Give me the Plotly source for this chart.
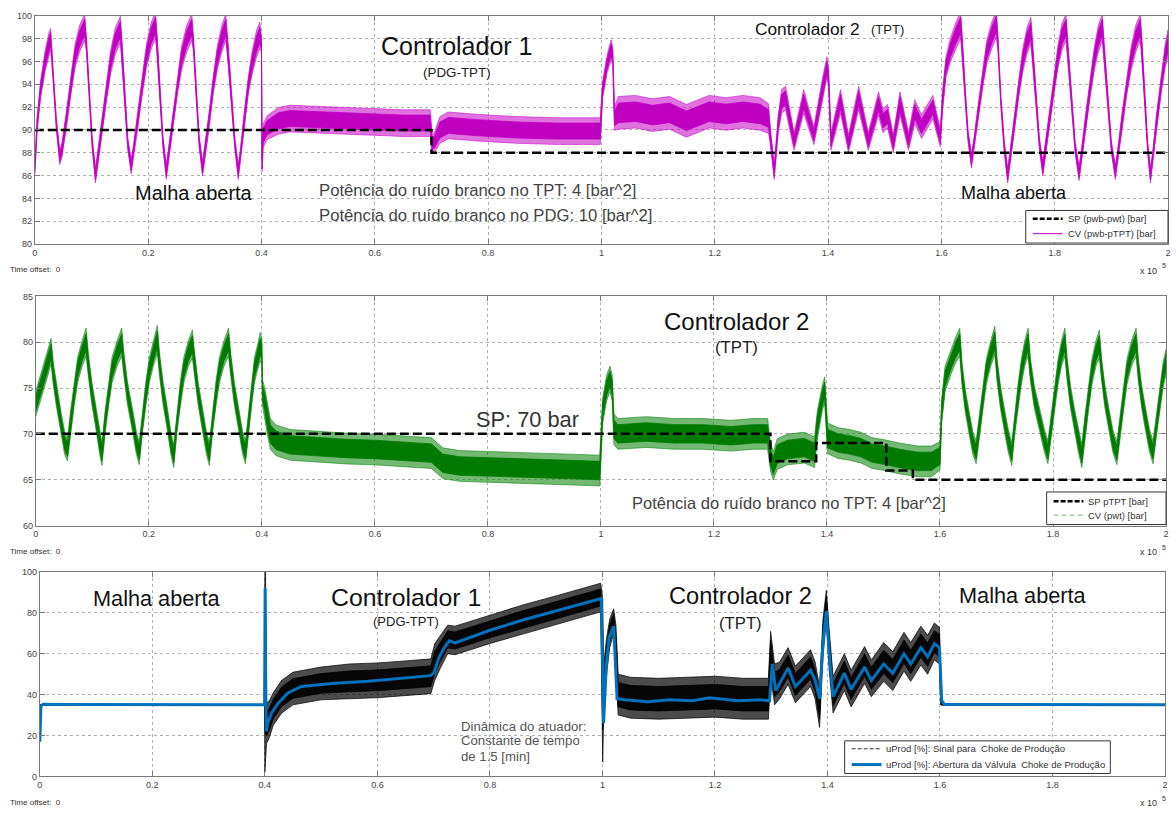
import plotly.graph_objects as go

W, H = 1176, 816

# ---------------- Panel 1: CV (pwb-pTPT) [bar]  (t in 1e5 s, value, noise half-width)
p1_cv_pts = [
    (0.000, 86.5, 0.3), (0.004, 90.5, 0.5), (0.010, 93.5, 0.6), (0.018, 96.0, 0.7), (0.025, 97.5, 0.8), (0.028, 98.0, 0.7),
    (0.032, 95.0, 0.4), (0.038, 90.5, 0.4), (0.044, 87.6, 0.5), (0.048, 88.3, 0.5), (0.056, 91.0, 0.6), (0.064, 94.0, 0.6),
    (0.071, 96.5, 0.8), (0.079, 98.0, 0.9), (0.088, 99.0, 0.9), (0.091, 97.5, 0.5), (0.096, 93.0, 0.4), (0.101, 89.0, 0.4),
    (0.107, 86.0, 0.5), (0.111, 87.5, 0.5), (0.119, 90.5, 0.6), (0.127, 93.5, 0.6), (0.134, 96.0, 0.8), (0.142, 97.8, 0.9),
    (0.151, 98.8, 0.9), (0.154, 97.0, 0.5), (0.159, 92.5, 0.4), (0.164, 88.8, 0.4), (0.170, 86.8, 0.5), (0.174, 88.0, 0.5),
    (0.182, 91.0, 0.6), (0.190, 94.0, 0.6), (0.197, 96.5, 0.8), (0.205, 98.2, 0.9), (0.213, 99.2, 0.9), (0.216, 97.5, 0.5),
    (0.221, 93.0, 0.4), (0.226, 89.0, 0.4), (0.232, 86.3, 0.5), (0.236, 87.8, 0.5), (0.244, 91.0, 0.6), (0.252, 94.0, 0.6),
    (0.259, 96.3, 0.8), (0.268, 98.0, 0.9), (0.277, 99.0, 0.9), (0.280, 97.5, 0.5), (0.285, 93.0, 0.4), (0.290, 89.0, 0.4),
    (0.296, 86.6, 0.5), (0.300, 88.0, 0.5), (0.308, 91.0, 0.6), (0.315, 94.0, 0.6), (0.322, 96.3, 0.8), (0.330, 98.0, 0.9),
    (0.337, 99.0, 0.9), (0.341, 97.0, 0.5), (0.347, 92.5, 0.4), (0.353, 88.8, 0.4), (0.359, 86.3, 0.5), (0.363, 87.8, 0.5),
    (0.370, 91.0, 0.6), (0.377, 94.0, 0.6), (0.384, 96.0, 0.8), (0.391, 97.5, 0.9), (0.397, 98.3, 0.9), (0.400, 97.5, 0.5),
    (0.401, 87.0, 0.5), (0.403, 89.5, 0.8), (0.410, 90.2, 0.8), (0.430, 90.8, 0.9), (0.450, 91.0, 0.9), (0.500, 90.9, 0.9),
    (0.550, 90.8, 0.9), (0.600, 90.7, 0.9), (0.650, 90.6, 0.9), (0.698, 90.6, 0.9), (0.701, 88.8, 0.6), (0.706, 89.0, 0.7),
    (0.715, 90.0, 0.9), (0.730, 90.4, 0.9), (0.780, 90.2, 0.9), (0.850, 90.0, 0.9), (0.920, 89.9, 0.9), (0.998, 89.9, 0.9),
    (1.002, 93.5, 0.6), (1.010, 95.8, 0.6), (1.017, 97.0, 0.7), (1.020, 96.5, 0.6), (1.023, 91.0, 0.8), (1.030, 91.5, 1.1),
    (1.060, 91.6, 1.1), (1.090, 91.3, 1.1), (1.120, 91.5, 1.1), (1.150, 90.8, 1.1), (1.165, 91.1, 1.1), (1.190, 91.6, 1.1),
    (1.220, 91.4, 1.1), (1.250, 91.6, 1.1), (1.280, 91.4, 1.1), (1.295, 91.0, 1.0), (1.298, 89.5, 0.6), (1.305, 86.3, 0.5),
    (1.312, 90.5, 0.6), (1.318, 92.5, 0.8), (1.325, 92.8, 0.8), (1.340, 89.0, 0.6), (1.357, 92.5, 0.8), (1.375, 89.5, 0.6),
    (1.390, 93.5, 0.8), (1.398, 95.5, 0.7), (1.401, 94.5, 0.6), (1.405, 89.0, 0.6), (1.422, 92.5, 0.8), (1.436, 88.8, 0.6),
    (1.454, 92.8, 0.8), (1.471, 89.0, 0.6), (1.489, 92.3, 0.8), (1.497, 90.8, 0.8), (1.505, 91.2, 0.8), (1.515, 88.8, 0.6),
    (1.527, 92.3, 0.8), (1.542, 89.0, 0.6), (1.553, 91.6, 0.8), (1.565, 90.3, 0.8), (1.585, 92.0, 0.8), (1.598, 89.3, 0.6),
    (1.602, 92.5, 0.7), (1.608, 95.5, 0.7), (1.616, 97.0, 0.8), (1.625, 98.2, 0.9), (1.634, 99.2, 0.9), (1.637, 97.5, 0.5),
    (1.642, 93.0, 0.4), (1.647, 89.5, 0.4), (1.653, 87.3, 0.5), (1.657, 88.5, 0.5), (1.665, 91.5, 0.6), (1.673, 94.5, 0.6),
    (1.680, 96.8, 0.8), (1.689, 98.3, 0.9), (1.697, 99.3, 0.9), (1.700, 97.5, 0.5), (1.705, 92.5, 0.4), (1.711, 88.5, 0.4),
    (1.717, 86.0, 0.5), (1.721, 87.5, 0.5), (1.729, 90.8, 0.6), (1.737, 93.8, 0.6), (1.744, 96.2, 0.8), (1.751, 97.8, 0.9),
    (1.758, 98.7, 0.9), (1.761, 97.0, 0.5), (1.767, 92.5, 0.4), (1.773, 88.8, 0.4), (1.779, 86.6, 0.5), (1.783, 88.0, 0.5),
    (1.791, 91.0, 0.6), (1.799, 94.0, 0.6), (1.806, 96.5, 0.8), (1.813, 98.2, 0.9), (1.820, 99.0, 0.9), (1.823, 97.2, 0.5),
    (1.830, 92.5, 0.4), (1.836, 88.5, 0.4), (1.843, 86.2, 0.5), (1.847, 87.6, 0.5), (1.855, 90.8, 0.6), (1.863, 93.8, 0.6),
    (1.870, 96.3, 0.8), (1.877, 98.0, 0.9), (1.884, 99.0, 0.9), (1.887, 97.2, 0.5), (1.894, 92.5, 0.4), (1.900, 88.5, 0.4),
    (1.907, 86.3, 0.5), (1.911, 87.6, 0.5), (1.919, 90.8, 0.6), (1.927, 93.8, 0.6), (1.935, 96.3, 0.8), (1.943, 98.0, 0.9),
    (1.951, 99.0, 0.9), (1.954, 97.2, 0.5), (1.959, 92.5, 0.4), (1.964, 88.5, 0.4), (1.969, 86.0, 0.5), (1.973, 87.5, 0.5),
    (1.980, 90.8, 0.6), (1.988, 94.0, 0.6), (1.995, 96.5, 0.8), (2.000, 97.6, 0.9),
]
p1_sp_t = [0.0, 0.7, 0.7, 2.0]
p1_sp_v = [90.0, 90.0, 88.0, 88.0]

# ---------------- Panel 2: CV (pwt) [bar]
p2_cv_pts = [
    (0.000, 73.3, 1.0), (0.010, 75.5, 1.0), (0.020, 77.5, 1.0), (0.027, 79.0, 1.0),
    (0.031, 76.5, 0.9), (0.037, 74.0, 0.9), (0.045, 71.0, 0.9), (0.051, 69.0, 0.9), (0.056, 68.3, 0.9),
    (0.062, 71.5, 0.9), (0.068, 74.5, 1.0), (0.074, 77.0, 1.0), (0.082, 78.8, 1.0), (0.089, 80.0, 1.1),
    (0.093, 77.5, 0.9), (0.099, 74.5, 0.9), (0.107, 71.5, 0.9), (0.113, 69.0, 0.9), (0.117, 67.8, 0.9),
    (0.123, 71.5, 0.9), (0.129, 74.5, 1.0), (0.135, 77.0, 1.0), (0.144, 78.8, 1.0), (0.152, 80.0, 1.1),
    (0.156, 77.5, 0.9), (0.162, 74.5, 0.9), (0.171, 71.5, 0.9), (0.178, 69.0, 0.9), (0.183, 67.9, 0.9),
    (0.189, 71.5, 0.9), (0.195, 74.5, 1.0), (0.201, 77.0, 1.0), (0.208, 78.8, 1.0), (0.215, 80.3, 1.1),
    (0.219, 77.5, 0.9), (0.225, 74.5, 0.9), (0.233, 71.5, 0.9), (0.239, 69.0, 0.9), (0.244, 67.6, 0.9),
    (0.250, 71.5, 0.9), (0.256, 74.5, 1.0), (0.262, 77.0, 1.0), (0.270, 78.8, 1.0), (0.277, 79.8, 1.1),
    (0.281, 77.5, 0.9), (0.287, 74.5, 0.9), (0.295, 71.5, 0.9), (0.302, 69.0, 0.9), (0.307, 67.8, 0.9),
    (0.313, 71.5, 0.9), (0.319, 74.5, 1.0), (0.325, 77.0, 1.0), (0.333, 78.8, 1.0), (0.341, 80.0, 1.1),
    (0.345, 77.5, 0.9), (0.351, 74.5, 0.9), (0.359, 71.5, 0.9), (0.366, 69.0, 0.9), (0.371, 68.0, 0.9),
    (0.377, 71.5, 0.9), (0.382, 74.5, 1.0), (0.387, 77.0, 1.0), (0.393, 78.5, 1.0), (0.397, 79.5, 1.1),
    (0.400, 79.0, 1.0), (0.401, 74.5, 1.0), (0.405, 73.5, 1.1), (0.410, 71.5, 1.2), (0.415, 70.0, 1.2),
    (0.425, 69.3, 1.2), (0.450, 68.8, 1.2), (0.500, 68.6, 1.2), (0.550, 68.4, 1.2), (0.600, 68.3, 1.2),
    (0.650, 68.1, 1.2), (0.700, 67.9, 1.2), (0.720, 66.8, 1.2), (0.750, 66.5, 1.2), (0.800, 66.4, 1.2),
    (0.850, 66.3, 1.2), (0.900, 66.2, 1.2), (0.950, 66.1, 1.2), (0.998, 66.0, 1.2), (1.003, 72.5, 1.0),
    (1.010, 75.0, 1.0), (1.016, 76.0, 1.0), (1.020, 75.0, 1.0), (1.023, 70.5, 1.2), (1.030, 70.0, 1.2),
    (1.080, 70.2, 1.2), (1.130, 70.0, 1.2), (1.180, 70.0, 1.2), (1.230, 69.8, 1.2), (1.270, 70.0, 1.2),
    (1.295, 70.0, 1.2), (1.300, 67.5, 1.1), (1.305, 66.5, 1.1), (1.312, 67.8, 1.2), (1.330, 68.3, 1.2),
    (1.360, 68.5, 1.2), (1.378, 68.0, 1.2), (1.383, 71.0, 1.1), (1.392, 74.0, 1.0), (1.396, 74.8, 1.0),
    (1.401, 69.5, 1.2), (1.420, 69.0, 1.2), (1.440, 68.8, 1.2), (1.460, 68.5, 1.2), (1.480, 67.9, 1.2),
    (1.500, 67.7, 1.2), (1.530, 67.3, 1.2), (1.560, 67.0, 1.2), (1.585, 67.0, 1.2), (1.600, 67.6, 1.1),
    (1.603, 72.5, 1.0), (1.609, 76.0, 1.0), (1.620, 78.0, 1.0), (1.628, 79.2, 1.0), (1.635, 80.0, 1.1),
    (1.639, 76.5, 0.9), (1.645, 73.5, 0.9), (1.652, 71.0, 0.9), (1.658, 69.0, 0.9), (1.664, 68.0, 0.9),
    (1.670, 71.0, 0.9), (1.676, 74.0, 1.0), (1.682, 76.8, 1.0), (1.690, 78.8, 1.0), (1.697, 80.2, 1.1),
    (1.701, 77.0, 0.9), (1.707, 74.0, 0.9), (1.714, 71.5, 0.9), (1.721, 69.2, 0.9), (1.727, 67.8, 0.9),
    (1.732, 71.0, 0.9), (1.738, 74.0, 1.0), (1.744, 76.8, 1.0), (1.750, 78.8, 1.0), (1.756, 80.0, 1.1),
    (1.760, 77.0, 0.9), (1.767, 74.0, 0.9), (1.776, 71.5, 0.9), (1.785, 69.2, 0.9), (1.791, 68.0, 0.9),
    (1.797, 71.0, 0.9), (1.803, 74.0, 1.0), (1.809, 76.8, 1.0), (1.815, 78.8, 1.0), (1.821, 80.0, 1.1),
    (1.825, 77.0, 0.9), (1.831, 74.0, 0.9), (1.838, 71.5, 0.9), (1.845, 69.2, 0.9), (1.851, 67.6, 0.9),
    (1.857, 71.0, 0.9), (1.863, 74.0, 1.0), (1.869, 76.8, 1.0), (1.876, 78.8, 1.0), (1.882, 79.8, 1.1),
    (1.886, 77.0, 0.9), (1.892, 74.0, 0.9), (1.899, 71.5, 0.9), (1.906, 69.2, 0.9), (1.913, 67.9, 0.9),
    (1.919, 71.0, 0.9), (1.925, 74.0, 1.0), (1.931, 76.8, 1.0), (1.939, 78.8, 1.0), (1.947, 80.0, 1.1),
    (1.951, 77.0, 0.9), (1.957, 74.0, 0.9), (1.964, 71.5, 0.9), (1.971, 69.2, 0.9), (1.977, 68.0, 0.9),
    (1.983, 71.0, 0.9), (1.989, 74.0, 1.0), (1.995, 76.5, 1.0), (2.000, 77.8, 1.0),
]
p2_sp_t = [0.0, 1.3, 1.3, 1.381, 1.381, 1.505, 1.505, 1.552, 1.552, 2.0]
p2_sp_v = [70.0, 70.0, 67.0, 67.0, 69.0, 69.0, 66.0, 66.0, 65.0, 65.0]

# ---------------- Panel 3: uProd [%]
p3_sig_pts = [  # Sinal para Choke de Producao (noisy command)
    (0.000, 35.0, 0.0), (0.3995, 35.0, 0.0), (0.4000, 51.0, 49.0), (0.4012, 51.0, 49.0), (0.403, 26.0, 10.0),
    (0.408, 28.0, 9.0), (0.415, 33.0, 8.0), (0.430, 39.0, 8.0), (0.450, 43.0, 8.0), (0.500, 45.5, 8.0),
    (0.550, 46.5, 8.5), (0.600, 47.0, 8.5), (0.650, 48.0, 8.5), (0.695, 49.0, 8.5), (0.702, 56.0, 9.0),
    (0.712, 61.0, 8.0), (0.725, 67.0, 7.0), (0.738, 66.5, 7.0), (0.800, 72.0, 7.0), (0.860, 77.0, 7.0),
    (0.920, 81.5, 7.0), (0.997, 87.5, 7.0), (1.0005, 47.0, 40.0), (1.002, 40.0, 14.0), (1.007, 58.0, 9.0),
    (1.013, 70.0, 7.0), (1.020, 76.0, 6.0), (1.024, 62.0, 12.0), (1.028, 40.0, 10.0), (1.050, 38.5, 10.0),
    (1.100, 38.0, 10.0), (1.150, 38.5, 10.0), (1.200, 39.0, 10.0), (1.250, 38.0, 10.0), (1.295, 38.0, 10.0),
    (1.299, 60.0, 11.0), (1.306, 45.0, 10.0), (1.315, 47.0, 9.0), (1.330, 54.0, 9.0), (1.343, 45.0, 9.0),
    (1.370, 53.0, 9.0), (1.378, 47.0, 9.0), (1.386, 34.0, 10.0), (1.392, 68.0, 9.0), (1.398, 84.0, 7.0),
    (1.403, 62.0, 10.0), (1.410, 40.0, 9.0), (1.430, 51.0, 9.0), (1.442, 43.0, 9.0), (1.466, 54.5, 9.0),
    (1.478, 48.0, 9.0), (1.500, 56.0, 9.5), (1.516, 51.5, 9.5), (1.536, 61.0, 9.5), (1.548, 56.0, 9.5),
    (1.566, 64.0, 9.5), (1.578, 59.5, 9.5), (1.590, 66.0, 9.0), (1.599, 64.0, 9.0), (1.601, 45.0, 10.0),
    (1.603, 35.0, 0.0), (2.000, 35.0, 0.0),
]
p3_valve_t = [0.000, 0.002, 0.006, 0.030, 0.3995, 0.4005, 0.4012, 0.4025, 0.405, 0.412, 0.424, 0.441, 0.465,
              0.524, 0.584, 0.640, 0.694, 0.700, 0.710, 0.720, 0.728, 0.738, 0.800, 0.860, 0.920, 0.998,
              1.000, 1.002, 1.007, 1.012, 1.020, 1.026, 1.040, 1.080, 1.120, 1.160, 1.190, 1.240, 1.280,
              1.297, 1.302, 1.308, 1.315, 1.330, 1.343, 1.370, 1.378, 1.386, 1.392, 1.398, 1.403, 1.410,
              1.430, 1.442, 1.466, 1.478, 1.500, 1.516, 1.536, 1.548, 1.566, 1.578, 1.590, 1.599, 1.603,
              1.608, 2.000]
p3_valve_v = [17.0, 34.5, 35.3, 35.2, 35.0, 92.0, 55.0, 22.0, 26.0, 31.0, 36.0, 40.8, 44.0,
              45.6, 46.5, 48.0, 49.3, 50.5, 58.5, 63.5, 66.3, 65.3, 71.5, 76.6, 81.0, 87.0,
              60.0, 26.0, 55.0, 68.0, 73.5, 38.0, 37.5, 36.5, 37.5, 37.0, 38.5, 37.0, 37.5,
              37.0, 55.0, 42.0, 45.5, 53.0, 44.0, 52.0, 47.0, 38.0, 65.0, 81.0, 60.0, 39.0,
              50.5, 42.5, 53.5, 47.0, 55.0, 50.5, 60.0, 55.0, 63.0, 58.5, 65.0, 63.0, 37.0,
              35.2, 35.0]

x_ticks = [0, 0.2, 0.4, 0.6, 0.8, 1.0, 1.2, 1.4, 1.6, 1.8, 2.0]
x_ticklabels = ["0", "0.2", "0.4", "0.6", "0.8", "1", "1.2", "1.4", "1.6", "1.8", "2"]

leg1_labels = ["SP (pwb-pwt) [bar]", "CV (pwb-pTPT) [bar]"]
leg2_labels = ["SP pTPT [bar]", "CV (pwt) [bar]"]
leg3_labels = ["uProd [%]: Sinal para  Choke de Produção", "uProd [%]: Abertura da Válvula  Choke de Produção"]

FONT = "Liberation Sans, Arial, sans-serif"


def px(x):
    return x / W


def py(y):
    return 1 - y / H


def band_poly(pts, scale):
    t = [p[0] for p in pts]
    up = [p[1] + p[2] * scale for p in pts]
    lo = [p[1] - p[2] * scale for p in pts]
    return t + t[::-1], up + lo[::-1]


fig = go.Figure()


def add_band(pts, xa, ya, col_outer, col_inner, scale):
    bx, by = band_poly(pts, scale)
    fig.add_trace(go.Scatter(x=bx, y=by, mode="lines", fill="toself", fillcolor=col_outer,
                             line=dict(color=col_outer, width=1), hoverinfo="skip", showlegend=False,
                             xaxis=xa, yaxis=ya))
    bx, by = band_poly(pts, scale * 0.6)
    fig.add_trace(go.Scatter(x=bx, y=by, mode="lines", fill="toself", fillcolor=col_inner,
                             line=dict(color=col_inner, width=0.8), hoverinfo="skip", showlegend=False,
                             xaxis=xa, yaxis=ya))


# Panel 1
add_band(p1_cv_pts, "x", "y", "rgba(200,0,200,0.55)", "#c000c0", 1.3)
fig.add_trace(go.Scatter(x=p1_sp_t, y=p1_sp_v, mode="lines", line=dict(color="black", width=2.5, dash="9px,4px"),
                         hoverinfo="skip", showlegend=False, xaxis="x", yaxis="y"))
# Panel 2
add_band(p2_cv_pts, "x2", "y2", "rgba(0,128,0,0.55)", "#007a00", 1.4)
fig.add_trace(go.Scatter(x=p2_sp_t, y=p2_sp_v, mode="lines", line=dict(color="black", width=2.5, dash="9px,4px"),
                         hoverinfo="skip", showlegend=False, xaxis="x2", yaxis="y2"))
# Panel 3
add_band(p3_sig_pts, "x3", "y3", "rgba(0,0,0,0.7)", "rgba(0,0,0,0.92)", 1.0)
fig.add_trace(go.Scatter(x=p3_valve_t, y=p3_valve_v, mode="lines", line=dict(color="#0072bd", width=3),
                         hoverinfo="skip", showlegend=False, xaxis="x3", yaxis="y3"))

axis_common = dict(showline=True, linecolor="#7a7a7a", linewidth=1, mirror="ticks", ticks="inside",
                   ticklen=5, tickcolor="#7a7a7a", showgrid=True, gridcolor="#b0b0b0", griddash="dot",
                   gridwidth=1, zeroline=False, tickfont=dict(family=FONT, size=9, color="#444"))

xcommon = dict(axis_common, range=[0, 2], tickvals=x_ticks, ticktext=x_ticklabels)

fig.update_layout(
    width=W, height=H, autosize=False, margin=dict(l=0, r=0, t=0, b=0),
    paper_bgcolor="white", plot_bgcolor="white", font=dict(family=FONT), showlegend=False,
    xaxis=dict(xcommon, domain=[px(32), px(1171)], anchor="y"),
    yaxis=dict(axis_common, domain=[py(242), py(11)], range=[80, 100], dtick=2, anchor="x"),
    xaxis2=dict(xcommon, domain=[px(33), px(1169)], anchor="y2"),
    yaxis2=dict(axis_common, domain=[py(527), py(295)], range=[60, 85], dtick=5, anchor="x2"),
    xaxis3=dict(xcommon, domain=[px(37), px(1168)], anchor="y3"),
    yaxis3=dict(axis_common, domain=[py(781), py(574)], range=[0, 100], dtick=20, anchor="x3"),
)


def note(text, x, y, size, color="#111", anchor="center"):
    fig.add_annotation(text=text, x=px(x), y=py(y), xref="paper", yref="paper", showarrow=False,
                       xanchor=anchor, yanchor="middle", font=dict(family=FONT, size=size, color=color))


def legend_box(x0, y0, x1, y1, rows, labels, styles, size):
    fig.add_shape(type="rect", xref="paper", yref="paper", x0=px(x0), y0=py(y1), x1=px(x1), y1=py(y0),
                  line=dict(color="#333", width=1), fillcolor="white", layer="above")
    for (ry, lab, st) in zip(rows, labels, styles):
        fig.add_shape(type="line", xref="paper", yref="paper", x0=px(x0 + 7), x1=px(x0 + 37),
                      y0=py(ry), y1=py(ry), line=st, layer="above")
        note(lab, x0 + 40, ry, size, "#333", "left")


legend_box(1028, 208, 1171, 241, [216.5, 231.5], leg1_labels,
           [dict(color="black", width=2.5, dash="5px,2px"), dict(color="#c000c0", width=1)], 9.5)
legend_box(1049, 493, 1169, 526, [502.5, 516.5], leg2_labels,
           [dict(color="black", width=2.5, dash="5px,2px"), dict(color="#66bb66", width=1, dash="5px,3px")], 9.5)
legend_box(846, 745, 1113, 778, [753, 769], leg3_labels,
           [dict(color="#333", width=1, dash="4px,2px"), dict(color="#0072bd", width=3)], 9.5)

# Panel 1 texts
note("Controlador 1", 456, 42, 25)
note("(PDG-TPT)", 456, 68, 13.4, "#222")
note("Controlador 2", 809, 24, 17.3)
note("(TPT)", 889, 25, 13, "#222")
note("Malha aberta", 192, 190, 20)
note("Malha aberta", 1016, 190, 18)
note("Potência do ruído branco no TPT: 4 [bar^2]", 316, 188, 16.7, "#444", "left")
note("Potência do ruído branco no PDG: 10 [bar^2]", 316, 213, 16.7, "#444", "left")
# Panel 2 texts
note("Controlador 2", 737, 320, 24)
note("(TPT)", 737, 347, 16.8, "#222")
note("SP: 70 bar", 527, 420, 21.8, "#333")
note("Potência do ruído branco no TPT: 4 [bar^2]", 630, 504, 16.5, "#444", "left")
# Panel 3 texts
note("Malha aberta", 155, 601, 21.7)
note("Controlador 1", 405, 600, 24.8)
note("(PDG-TPT)", 405, 624, 13, "#222")
note("Controlador 2", 741, 598, 23.6)
note("(TPT)", 741, 626, 16.7, "#222")
note("Malha aberta", 1025, 598, 21.7)
note("Dinâmica do atuador:", 458, 730, 13.2, "#555", "left")
note("Constante de tempo", 458, 745, 13.2, "#555", "left")
note("de 1.5 [min]", 458, 761, 13.2, "#555", "left")
# Time offset / exponent labels
for yy in (268, 553, 807):
    note("Time offset:  0", 5, yy, 8, "#333", "left")
    note("x 10", 1162, yy + 1, 9, "#333", "right")
    note("5", 1162.5, yy - 4, 7, "#333", "left")

fig.write_html("out.html")
